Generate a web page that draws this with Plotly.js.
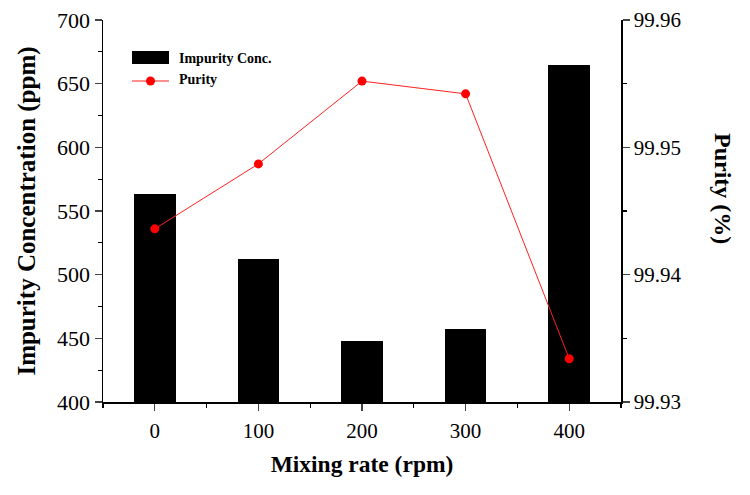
<!DOCTYPE html>
<html>
<head>
<meta charset="utf-8">
<script src="https://cdn.plot.ly/plotly-3.0.1.min.js"></script>
<style>html,body{margin:0;padding:0;background:#fff;}#chart{width:750px;height:495px;}</style>
</head>
<body>
<div id="chart"></div>
<script>
const mixingRate = [0, 100, 200, 300, 400];
const impurityConc = [563, 512, 448, 457, 665];
const purity = [99.9436, 99.9487, 99.9552, 99.9542, 99.9334];
const xTicks = [0, 100, 200, 300, 400];
const barName = 'Impurity Conc.';
const lineName = 'Purity';

const FONT = 'Liberation Serif, Times New Roman, serif';

const traces = [
  {
    type: 'bar', x: mixingRate, y: impurityConc, name: barName,
    width: 40, marker: {color: '#000000', line: {width: 0}},
    xaxis: 'x', yaxis: 'y', showlegend: false
  },
  {
    type: 'scatter', mode: 'lines+markers', x: mixingRate, y: purity, name: lineName,
    line: {color: '#ff2020', width: 1}, marker: {color: '#ff0000', size: 9},
    xaxis: 'x', yaxis: 'y2', showlegend: false
  }
];

// legend drawn in paper coordinates
const lx0 = 0.056, lx1 = 0.1274, lineY = 0.8403;
const mx = (lx0 + lx1) / 2;

const layout = {
  width: 750, height: 495,
  margin: {l: 103, r: 129, t: 20, b: 93},
  paper_bgcolor: '#ffffff', plot_bgcolor: '#ffffff',
  font: {family: FONT, color: '#000', size: 21},
  bargap: 0,
  xaxis: {
    range: [-50, 450], tickvals: xTicks, ticks: 'outside', ticklen: 7, tickwidth: 1.3,
    showline: true, linewidth: 1.5, linecolor: '#000', zeroline: false, showgrid: false,
    minor: {ticks: 'outside', ticklen: 4, tickwidth: 1.3, dtick: 50, tick0: 0, tickcolor: '#000'},
    tickfont: {size: 21}, ticklabelstandoff: 2,
    title: {text: '<b>Mixing rate (rpm)</b>', font: {size: 23.5}, standoff: 14}
  },
  xaxis2: {
    overlaying: 'x', side: 'top', anchor: 'y', range: [-50, 450], tickvals: xTicks,
    ticks: 'inside', ticklen: 7, tickwidth: 1.3, showticklabels: false,
    showline: true, linewidth: 1.5, linecolor: '#000', zeroline: false, showgrid: false,
    minor: {ticks: 'inside', ticklen: 7, tickwidth: 1.3, dtick: 50, tick0: 0, tickcolor: '#000'}
  },
  yaxis: {
    range: [400, 700], dtick: 50, tick0: 400, ticks: 'outside', ticklen: 7, tickwidth: 1.3,
    showline: true, linewidth: 1.5, linecolor: '#000', zeroline: false, showgrid: false,
    minor: {ticks: 'outside', ticklen: 4, tickwidth: 1.3, dtick: 25, tick0: 400, tickcolor: '#000'},
    tickfont: {size: 22},
    title: {text: '<b>Impurity Concentration (ppm)</b>', font: {size: 25}, standoff: 14}
  },
  yaxis2: {
    overlaying: 'y', side: 'right', anchor: 'x', range: [99.93, 99.96], dtick: 0.01, tick0: 99.93,
    tickformat: '.2f', ticks: 'outside', ticklen: 7, tickwidth: 1.3,
    showline: true, linewidth: 1.5, linecolor: '#000', zeroline: false, showgrid: false,
    minor: {ticks: 'outside', ticklen: 4, tickwidth: 1.3, dtick: 0.005, tick0: 99.93, tickcolor: '#000'},
    tickfont: {size: 21}
  },
  shapes: [
    {type: 'rect', xref: 'paper', yref: 'paper', x0: lx0, x1: lx1, y0: 0.8848, y1: 0.9188,
     fillcolor: '#000', line: {width: 0}},
    {type: 'line', xref: 'paper', yref: 'paper', x0: lx0, x1: lx1, y0: lineY, y1: lineY,
     line: {color: '#ff2020', width: 1}},
    {type: 'circle', xref: 'paper', yref: 'paper', x0: mx - 0.0087, x1: mx + 0.0087,
     y0: lineY - 0.0118, y1: lineY + 0.0118, fillcolor: '#ff0000', line: {width: 0}}
  ],
  annotations: [
    {xref: 'paper', yref: 'paper', x: 0.1429, y: 0.9005, xanchor: 'left', yanchor: 'middle',
     text: '<b>' + barName + '</b>', showarrow: false, font: {size: 14}},
    {xref: 'paper', yref: 'paper', x: 0.1429, y: 0.843, xanchor: 'left', yanchor: 'middle',
     text: '<b>' + lineName + '</b>', showarrow: false, font: {size: 14}},
    {xref: 'paper', yref: 'paper', x: 1.197, y: 0.56, xanchor: 'center', yanchor: 'middle',
     text: '<b>Purity (%)</b>', textangle: 90, showarrow: false, font: {size: 24}}
  ]
};

Plotly.newPlot('chart', traces, layout, {displayModeBar: false, staticPlot: true});
</script>
</body>
</html>
